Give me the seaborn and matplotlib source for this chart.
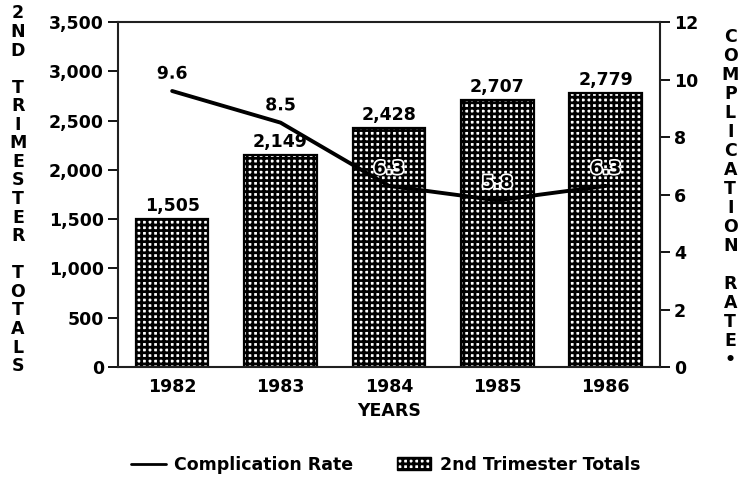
import seaborn as sns
import matplotlib.pyplot as plt
import matplotlib.ticker as mticker
import matplotlib.patheffects as pe
from matplotlib.lines import Line2D
from matplotlib.patches import Patch
import pandas as pd
import numpy as np

# данные с графика
years = ["1982", "1983", "1984", "1985", "1986"]
totals = [1505, 2149, 2428, 2707, 2779]
rates = [9.6, 8.5, 6.3, 5.8, 6.3]
left_ticks = [0, 500, 1000, 1500, 2000, 2500, 3000, 3500]
right_ticks = [0, 2, 4, 6, 8, 10, 12]

sns.set_theme(style="white")
plt.rcParams['font.family'] = ['DejaVu Sans']
plt.rcParams['font.weight'] = 'bold'
plt.rcParams['text.color'] = 'black'
plt.rcParams['axes.labelcolor'] = 'black'
plt.rcParams['xtick.color'] = 'black'
plt.rcParams['ytick.color'] = 'black'
plt.rcParams['hatch.linewidth'] = 2.0
plt.rcParams['hatch.color'] = 'black'

FS = 12.5

df = pd.DataFrame({"year": years, "total": totals, "rate": rates})

fig = plt.figure(figsize=(7.49, 4.78), dpi=100)
ax = fig.add_axes([0.1575, 0.232, 0.7235, 0.722])

sns.barplot(data=df, x="year", y="total", ax=ax, color="white",
            edgecolor="black", linewidth=1.6, width=0.67, hatch="+++")
ax.set_xlim(-0.5, 4.5)
ax.set_ylim(0, 3500)
ax.set_yticks(left_ticks)
ax.yaxis.set_major_formatter(mticker.FuncFormatter(lambda v, p: f"{v:,.0f}"))
ax.set_xlabel("YEARS", fontsize=FS, fontweight='bold', labelpad=4)
ax.set_ylabel("")
ax.tick_params(axis='y', length=7, width=1.3, direction='out', left=True,
               labelsize=FS, pad=3)
ax.tick_params(axis='x', length=0, labelsize=FS, pad=8)

for i, v in enumerate(totals):
    ax.annotate(f"{v:,}", (i, v), xytext=(0, 3), textcoords="offset points",
                ha="center", va="bottom", fontsize=FS, fontweight='bold')

for s in ax.spines.values():
    s.set_linewidth(1.5)
    s.set_color("black")

ax2 = ax.twinx()
sns.lineplot(x=df.index, y=df["rate"], ax=ax2, color="black", linewidth=2.8)
ax2.set_ylim(0, 12)
ax2.set_yticks(right_ticks)
ax2.set_ylabel("")
ax2.tick_params(axis='y', length=7, width=1.3, direction='out', right=True,
                labelsize=FS, pad=3)
for i, v in enumerate(rates):
    ax2.annotate(f"{v}", (i, v), xytext=(0, 6), textcoords="offset points",
                 ha="center", va="bottom", fontsize=FS, fontweight='bold',
                 path_effects=[pe.withStroke(linewidth=2.5, foreground="white")])

left_label = "\n".join("2ND") + "\n\n" + "\n".join("TRIMESTER") + "\n\n" + "\n".join("TOTALS")
right_label = "\n".join("COMPLICATION") + "\n\n" + "\n".join("RATE") + "\n•"
fig.text(0.024, 0.603, left_label, ha="center", va="center", fontsize=FS,
         fontweight='bold', linespacing=1.04)
fig.text(0.975, 0.585, right_label, ha="center", va="center", fontsize=FS,
         fontweight='bold', linespacing=1.07)

handles = [Line2D([0], [0], color="black", linewidth=2),
           Patch(facecolor="white", edgecolor="black", hatch="+++", linewidth=1)]
fig.legend(handles, ["Complication Rate", "2nd Trimester Totals"],
           loc="center", bbox_to_anchor=(0.515, 0.028), ncol=2, frameon=False,
           fontsize=FS, handlelength=2.0, handletextpad=0.5, columnspacing=2.5)

fig.savefig("out.png", dpi=100)
